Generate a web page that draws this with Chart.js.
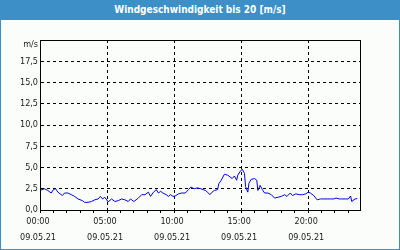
<!DOCTYPE html>
<html>
<head>
<meta charset="utf-8">
<script src="https://cdn.jsdelivr.net/npm/chart.js@4/dist/chart.umd.min.js"></script>
<style>
  html, body { margin: 0; padding: 0; background: #fff; }
  #wrap { position: relative; width: 400px; height: 250px; box-sizing: border-box;
          border: 1px solid #3c8fc7; border-top: none; background: #fbfdfb; }
  #title { position: absolute; left: -1px; top: 0; width: 400px; height: 20px; background: #3c8fc7;
           color: #fff; font: bold 10px "DejaVu Sans Condensed", "Liberation Sans", sans-serif;
           text-align: center; line-height: 19px; }
  #box { position: absolute; left: 0; top: 20px; width: 398px; height: 229px; }
</style>
</head>
<body>
<div id="wrap">
  <div id="title">Windgeschwindigkeit bis 20 [m/s]</div>
  <div id="box"><canvas id="windChart" width="398" height="229"></canvas></div>
</div>
<script>
// Zeit in Minuten ab 00:00 und Windgeschwindigkeit in m/s
const minutes = [0,20,35,50,60,70,80,100,110,125,140,155,170,190,200,215,230,245,260,270,280,290,305,320,335,350,365,380,395,405,420,430,440,455,470,485,495,505,520,530,540,550,565,575,585,595,605,620,635,650,665,675,690,705,720,740,750,760,770,780,795,800,810,825,840,850,860,870,880,885,895,905,915,920,930,935,945,960,970,975,985,995,1005,1020,1035,1050,1065,1080,1095,1105,1120,1130,1145,1160,1175,1190,1200,1210,1225,1240,1255,1270,1285,1300,1315,1325,1340,1350,1365,1380,1390,1395,1410,1420];
const speeds = [2.3,2.5,2.3,2.0,2.4,2.5,2.1,1.7,2.0,2.0,1.8,1.6,1.3,1.1,0.9,0.9,1.0,1.2,1.3,1.6,1.3,1.5,0.95,1.3,1.0,1.1,1.3,1.2,1.0,1.3,1.0,1.2,1.4,1.8,1.8,2.1,1.6,2.0,2.4,2.0,2.2,2.0,1.8,1.6,1.8,1.6,1.65,1.9,2.0,2.0,2.4,2.7,2.5,2.6,2.5,2.3,2.1,1.8,2.1,2.3,2.4,3.1,3.45,4.2,4.1,3.9,3.7,4.0,3.5,4.1,4.5,4.8,4.3,2.75,2.1,3.15,3.6,3.7,3.5,2.3,2.9,2.4,2.0,2.0,1.8,1.4,1.5,1.6,1.8,1.6,2.0,1.7,1.9,1.8,1.8,1.9,2.1,2.0,1.7,1.2,1.3,1.3,1.3,1.3,1.3,1.4,1.3,1.3,1.3,1.3,1.65,1.0,1.3,1.35];

// Achsenbeschriftungen
const timeLabels = ['00:00', '05:00', '10:00', '15:00', '20:00'];
const dateLabel = '09.05.21';
const yLabels = ['0,0', '2,5', '5,0', '7,5', '10,0', '12,5', '15,0', '17,5', 'm/s'];

// Rahmen um den Plotbereich
const frame = {
  id: 'frame',
  afterDraw(chart) {
    const { ctx, chartArea: a } = chart;
    ctx.save();
    ctx.strokeStyle = '#000';
    ctx.lineWidth = 1;
    ctx.strokeRect(Math.round(a.left) + 0.5, Math.round(a.top) + 0.5,
      Math.round(a.right - a.left), Math.round(a.bottom - a.top));
    ctx.restore();
  }
};

const family = "'DejaVu Sans Condensed', 'Liberation Sans', sans-serif";

new Chart(document.getElementById('windChart'), {
  type: 'line',
  data: {
    datasets: [{
      data: minutes.map((m, i) => ({ x: m, y: speeds[i] })),
      borderColor: '#0000ee',
      borderWidth: 1,
      pointRadius: 0,
      tension: 0
    }]
  },
  options: {
    responsive: false,
    animation: false,
    layout: { padding: { top: 20, right: 39, left: 0, bottom: 0 } },
    plugins: { legend: { display: false }, tooltip: { enabled: false } },
    scales: {
      x: {
        type: 'linear',
        min: 0,
        max: 1432,
        afterFit: (s) => { s.height = 39; },
        afterBuildTicks: (s) => { s.ticks = Array.from({ length: 24 }, (_, i) => ({ value: i * 60 })); },
        border: { display: true, color: '#000', dash: [3, 3] },
        grid: {
          color: (c) => (c.tick && c.tick.value % 300 === 0 ? '#000' : 'rgba(0,0,0,0)'),
          tickColor: '#000',
          tickLength: 3,
          drawTicks: true
        },
        ticks: {
          autoSkip: false,
          maxRotation: 0,
          padding: 1,
          labelOffset: -2,
          color: '#1a1a1a',
          font: { family, size: 9, lineHeight: 16 / 9 },
          callback: (v) => (v % 300 === 0 ? [timeLabels[v / 300], dateLabel] : '')
        }
      },
      y: {
        min: 0,
        max: 20,
        afterFit: (s) => { s.width = 39; },
        border: { display: true, color: '#000', dash: [3, 3] },
        grid: { color: '#000', drawTicks: false },
        ticks: {
          stepSize: 2.5,
          autoSkip: false,
          padding: 2,
          color: '#1a1a1a',
          // "m/s" sitzt etwas unterhalb der obersten Linie
          font: (c) => ({ family, size: 9, lineHeight: c.tick && c.tick.value === 20 ? 10 / 9 : 1.2 }),
          callback: (v) => (v === 20 ? ['', yLabels[8]] : yLabels[Math.round(v / 2.5)])
        }
      }
    }
  },
  plugins: [frame]
});
</script>
</body>
</html>
